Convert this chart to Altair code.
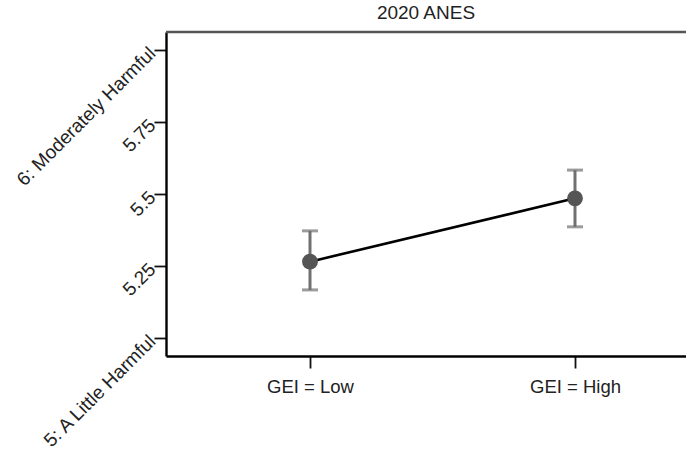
import altair as alt
import pandas as pd

# GEI groups and predicted harm ratings with 95% confidence intervals
groups = ["GEI = Low", "GEI = High"]
estimate = [5.265, 5.485]
ci_low = [5.167, 5.386]
ci_high = [5.372, 5.583]

y_ticks = [5, 5.25, 5.5, 5.75, 6]
y_tick_labels = ["5: A Little Harmful", "5.25", "5.5", "5.75", "6: Moderately Harmful"]

df = pd.DataFrame({
    "pos": list(range(1, len(groups) + 1)),
    "group": groups,
    "est": estimate,
    "lo": ci_low,
    "hi": ci_high,
})

FONT = "Liberation Sans"
W, H = 520, 324

x_label_expr = " : ".join(
    f"datum.value == {i + 1} ? '{g}'" for i, g in enumerate(groups)
) + " : ''"
y_label_expr = " : ".join(
    f"abs(datum.value - {v}) < 0.001 ? '{t}'" for v, t in zip(y_ticks, y_tick_labels)
) + " : ''"

x_enc = alt.X(
    "pos:Q",
    scale=alt.Scale(domain=[0.4566, 2.4189], nice=False, zero=False),
    axis=alt.Axis(
        values=[1, 2], labelExpr=x_label_expr, title=None, grid=False,
        tickSize=12, tickWidth=1.8, tickColor="#111",
        domainColor="#000", domainWidth=2.4,
        labelFont=FONT, labelFontSize=18.5, labelColor="#222", labelPadding=9,
        labelOverlap=False,
    ),
)
y_scale = alt.Scale(domain=[4.9375, 6.0625], nice=False, zero=False)
y_axis = alt.Axis(
    values=y_ticks, labelExpr=y_label_expr, title=None, grid=False,
    tickSize=12, tickWidth=1.8, tickColor="#111",
    domainColor="#000", domainWidth=2.4,
    labelFont=FONT, labelFontSize=19, labelColor="#222", labelPadding=2,
    labelAngle=315, labelAlign="right", labelBaseline="middle",
    labelOverlap=False, labelBound=False, labelFlush=False, labelLimit=400,
)

base = alt.Chart(df)

ci_rule = base.mark_rule(color="#707070", strokeWidth=3).encode(
    x=x_enc,
    y=alt.Y("lo:Q", scale=y_scale, axis=y_axis),
    y2="hi:Q",
)
cap_lo = base.mark_tick(color="#707070", orient="horizontal", size=16, thickness=3).encode(
    x="pos:Q", y="lo:Q"
)
cap_hi = base.mark_tick(color="#707070", orient="horizontal", size=16, thickness=3).encode(
    x="pos:Q", y="hi:Q"
)
line = base.mark_line(color="#000", strokeWidth=2.6).encode(x="pos:Q", y="est:Q")
points = base.mark_circle(color="#555", opacity=1, size=250).encode(x="pos:Q", y="est:Q")

# top border of the plot region
top_border = alt.Chart(alt.Data(values=[{}])).mark_rule(color="#555", strokeWidth=2.4).encode(
    x=alt.value(0), x2=alt.value(W + 10), y=alt.value(0)
)

chart = (
    alt.layer(ci_rule, cap_lo, cap_hi, line, points, top_border)
    .properties(
        width=W,
        height=H,
        title=alt.Title("2020 ANES", font=FONT, fontSize=19, fontWeight="normal",
                        color="#222", anchor="middle", offset=8),
        autosize=alt.AutoSizeParams(type="none"),
        padding={"left": 166, "top": 32, "right": 0, "bottom": 97},
    )
    .configure_view(stroke=None)
    .configure(background="white")
)

chart.save("out.html", embed_options={"renderer": "svg", "actions": False})
